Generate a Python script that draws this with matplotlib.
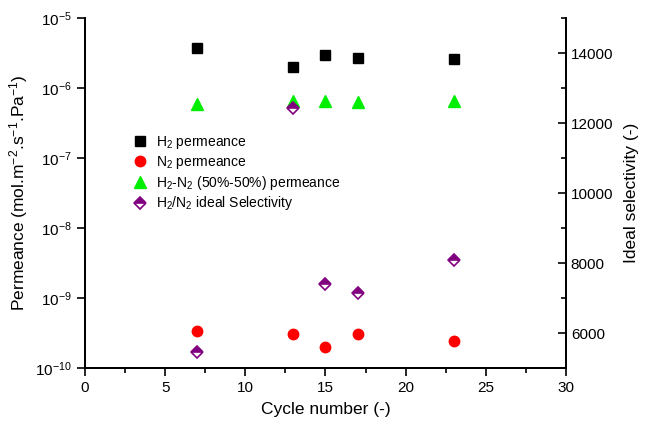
import numpy as np
import matplotlib
matplotlib.use('Agg')
import matplotlib.pyplot as plt
from matplotlib.ticker import LogLocator, MultipleLocator, NullLocator

plt.rcParams['font.family'] = ['Liberation Sans', 'DejaVu Sans']
plt.rcParams['mathtext.fontset'] = 'custom'
plt.rcParams['mathtext.rm'] = 'Liberation Sans'
plt.rcParams['mathtext.it'] = 'Liberation Sans'

cycles = [7, 13, 15, 17, 23]
h2_perm = [3.77e-6, 2.02e-6, 2.96e-6, 2.68e-6, 2.6e-6]
n2_perm = [3.38e-10, 3.09e-10, 2.0e-10, 3.03e-10, 2.45e-10]
mix_perm = [5.9e-7, 6.6e-7, 6.5e-7, 6.3e-7, 6.6e-7]
selectivity = [5450, 12440, 7410, 7130, 8095]

fig = plt.figure(figsize=(6.46, 4.25), dpi=100)
ax = fig.add_axes([0.1316, 0.134, 0.7445, 0.8236])
ax2 = ax.twinx()

h1, = ax.plot(cycles, h2_perm, 's', color='black', ms=6.5, ls='none',
              label='H$_2$ permeance')
h2, = ax.plot(cycles, n2_perm, 'o', color='red', ms=7.5, ls='none',
              label='N$_2$ permeance')
h3, = ax.plot(cycles, mix_perm, '^', color='#00ee00', ms=8, ls='none',
              label='H$_2$-N$_2$ (50%-50%) permeance')
h4, = ax2.plot(cycles, selectivity, 'D', color='purple', mfc='purple',
               mfcalt='white', fillstyle='top', mec='purple', mew=1.2,
               ms=6.5, ls='none', label='H$_2$/N$_2$ ideal Selectivity')

ax.set_yscale('log')
ax.set_ylim(1e-10, 1e-5)
ax.set_xlim(0, 30)
ax.yaxis.set_major_locator(LogLocator(base=10, numticks=10))
ax.yaxis.set_minor_locator(NullLocator())
ax.xaxis.set_major_locator(MultipleLocator(5))
ax.xaxis.set_minor_locator(MultipleLocator(2.5))

ax2.set_ylim(5000, 15000)
ax2.yaxis.set_major_locator(MultipleLocator(2000))
ax2.yaxis.set_minor_locator(MultipleLocator(1000))

for a in (ax, ax2):
    a.spines['top'].set_visible(False)
    for s in a.spines.values():
        s.set_linewidth(1.3)

ax.tick_params(axis='both', which='major', direction='out', length=6,
               width=1.2, labelsize=11)
ax.tick_params(axis='x', which='minor', direction='out', length=3.5, width=1.2)
ax2.tick_params(axis='y', which='major', direction='in', length=6,
                width=1.2, labelsize=11)
ax2.tick_params(axis='y', which='minor', direction='in', length=3.5, width=1.2)

ax.set_xlabel('Cycle number (-)', fontsize=12.5, labelpad=5)
ax.set_ylabel('Permeance (mol.m$^{-2}$.s$^{-1}$.Pa$^{-1}$)', fontsize=12.5)
ax.yaxis.set_label_coords(-0.114, 0.5)
ax2.set_ylabel('Ideal selectivity (-)', fontsize=12.5, labelpad=8)

ax.legend(handles=[h1, h2, h3, h4], loc='upper left',
          bbox_to_anchor=(0.077, 0.70), frameon=False, fontsize=10,
          handlelength=1.0, handletextpad=0.62, labelspacing=0.2,
          numpoints=1, borderpad=0.3)

fig.savefig('out.png', dpi=100)
